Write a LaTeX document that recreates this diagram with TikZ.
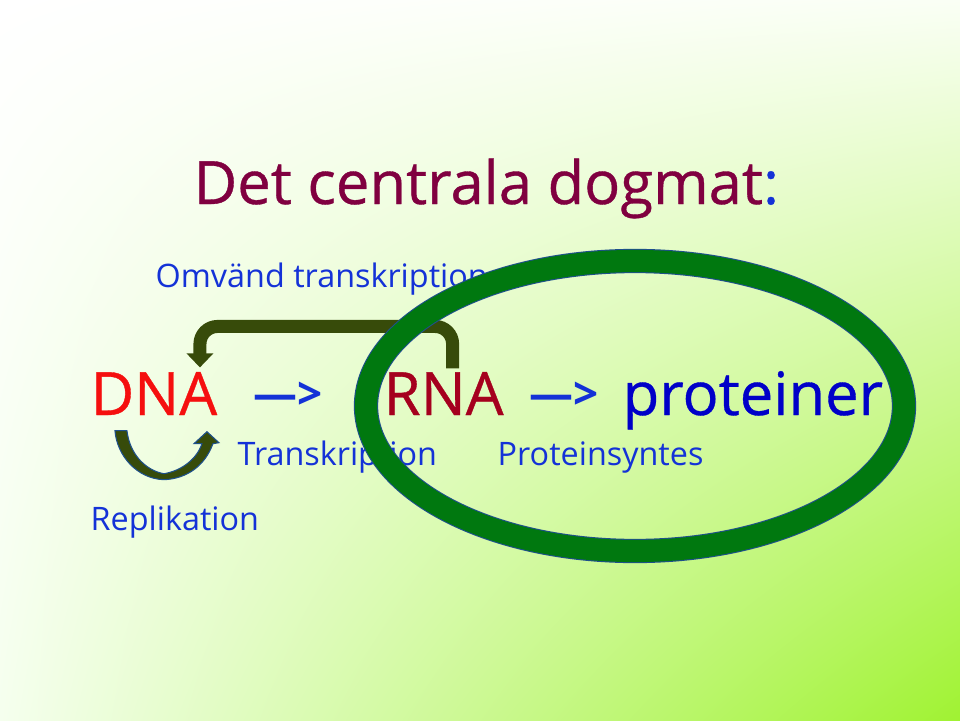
\documentclass[tikz,border=0pt]{standalone}
\usepackage{fontspec}
\setmainfont{Open Sans}
\usetikzlibrary{arrows.meta,shadings}
\definecolor{titlered}{RGB}{128,0,64}
\definecolor{textblue}{RGB}{20,50,215}
\definecolor{dnared}{RGB}{245,15,15}
\definecolor{rnared}{RGB}{165,0,30}
\definecolor{protblue}{RGB}{0,0,200}
\definecolor{ringgreen}{RGB}{0,120,15}
\definecolor{ringedge}{RGB}{30,80,140}
\definecolor{olive}{RGB}{55,75,10}
\definecolor{bgtr}{RGB}{250,255,245}
\definecolor{bgbl}{RGB}{245,255,238}
\definecolor{bgbr}{RGB}{160,242,50}
\tikzset{
  big/.style={inner sep=0pt, anchor=base west,
    font=\fontsize{17}{20}\selectfont\addfontfeature{FakeBold=0.6}},
  small/.style={inner sep=0pt, anchor=base west, text=textblue, font=\fontsize{9.2}{11}\selectfont},
  flow/.style={inner sep=0pt, text=textblue, font=\fontsize{12.5}{14}\selectfont\bfseries},
  revarrow/.style={draw=olive, line width=3.7pt, rounded corners=5pt,
    -{Triangle[length=4pt,width=7.4pt]}}
}
\begin{document}
\begin{tikzpicture}[x=0.01cm,y=-0.01cm]
        % bakgrund
        \shade[upper left=white, upper right=bgtr, lower left=bgbl, lower right=bgbr]
          (0,0) rectangle (960,721);
        \useasboundingbox (0,0) rectangle (960,721);

        % rubrik
        \node[big, text=titlered] (title) at (193,204) {Det centrala dogmat\textcolor{textblue}{:}};
        \node[small] (omv) at (155,287) {Omvänd transkription};

        % DNA -> RNA -> proteiner
        \node[big, text=dnared] (dna) at (90,415) {DNA};
        \node[flow] (arr1) at (288,396) {—>};
        \node[big, text=rnared] (rna) at (383,415) {RNA};
        \node[flow] (arr2) at (564,396) {—>};
        \node[big, text=protblue] (prot) at (622,415) {proteiner};
        \node[small] (transk) at (237,465) {Transkription};
        \node[small] (syntes) at (497,465) {Proteinsyntes};
        \node[small] (repl) at (90,530) {Replikation};

        % omvand transkription
        \draw[revarrow] ([shift={(9,-3)}]rna.north) -- ++(0,-42) -| ([shift={(46,-4)}]dna.north);

        % replikation
        \begin{scope}[shift={(dna.south)}]
          \fill[olive, draw=ringedge, line width=0.3pt] (-39,15) -- (-27,15)
            .. controls (-24,40) and (-7,55) .. (10,58)
            .. controls (28,55) and (43,43) .. (48,28)
            -- (40,28) -- (53,16) -- (65,27) -- (59,28)
            .. controls (51,50) and (33,63) .. (10,64)
            .. controls (-17,63) and (-37,40) .. cycle;
        \end{scope}

        % ring
        \draw[ringedge, line width=6.9pt] (635,406) ellipse [x radius=269, y radius=145];
        \draw[ringgreen, line width=6.3pt] (635,406) ellipse [x radius=269, y radius=145];
\end{tikzpicture}
\end{document}
